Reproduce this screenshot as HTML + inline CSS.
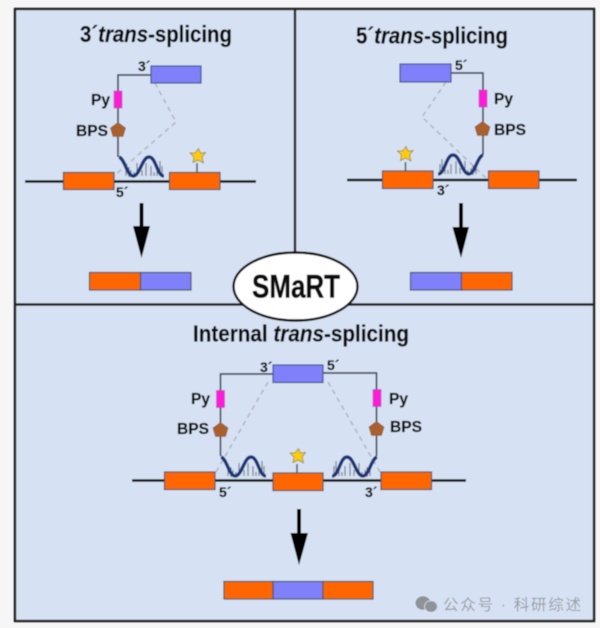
<!DOCTYPE html>
<html><head><meta charset="utf-8"><style>
html,body{margin:0;padding:0;background:#f6f6f6}
svg{display:block}
text{font-family:"Liberation Sans","Noto Sans CJK SC",sans-serif;fill:#0c0c0c}
.b{font-weight:bold;stroke:#0c0c0c;stroke-width:.5px}
.t{font-weight:bold;font-size:23px;stroke:#0c0c0c;stroke-width:.25px}
.s{font-weight:bold;font-size:14px;stroke:#0c0c0c;stroke-width:.2px}
.p{font-weight:bold;font-size:15.500px;stroke:#0c0c0c;stroke-width:.25px}
</style></head><body>
<svg width="600" height="628" viewBox="0 0 600 628" xmlns="http://www.w3.org/2000/svg">
<defs>
<filter id="bl" x="-5%" y="-5%" width="110%" height="110%"><feGaussianBlur stdDeviation="0.4"/></filter>
<path id="star" d="M1,-7.500 L3,-2.800 L8,-3.500 L4.500,1 L6,7 L0.500,4 L-4.500,6.500 L-3.500,1 L-7.500,-3 L-2.200,-3.200Z" fill="#ffcc11" stroke="#8f8433" stroke-width=".8"/>
<path id="pent" d="M0,-7.500 L7.500,-2 L5,6.500 L-5,6.500 L-7.500,-2Z" fill="#a9602f" stroke="#8a552f" stroke-width=".6"/>
<g id="ticks" stroke="#7a808b" stroke-width="1.200" fill="none">
<path d="M8,164V176M11,167V177M13,170V176M16,172V177M19,163V176M24,170V176M28,163V176M33,166V176M36,172V176M39,166V176M42,161V176M44,166V177"/>
</g>
<path id="wave" d="M1,157 C7,159 9,176 15,176 C22,176 24,157 31,157 C38,157 39,176 46,176" fill="none" stroke="#1a3474" stroke-width="3.400"/>
</defs>
<rect width="600" height="628" fill="#f6f6f6"/>
<g filter="url(#bl)">
<rect x="15" y="9" width="579" height="612" fill="#d6e2f4" stroke="#1c1c1c" stroke-width="2.400"/>
<line x1="295" y1="9" x2="295" y2="256" stroke="#1c1c1c" stroke-width="2.400"/>
<line x1="15" y1="304.500" x2="594" y2="304.500" stroke="#1c1c1c" stroke-width="2.400"/>

<!-- Panel 1 -->
<path d="M155,83 L176,122 L115,175" fill="none" stroke="#b0b5bd" stroke-width="1.500" stroke-dasharray="5 4"/>
<line x1="25" y1="181.500" x2="256" y2="181.500" stroke="#0c0c0c" stroke-width="2.600"/>
<path d="M151,75H118V157" fill="none" stroke="#454d5c" stroke-width="1.700"/>
<rect x="151" y="66" width="50" height="17" fill="#8080fa" stroke="#44558a" stroke-width="1.200"/>
<rect x="114" y="91" width="8" height="17" fill="#ff1fd8" stroke="#a040a0" stroke-width=".6"/>
<use href="#pent" x="118" y="130"/>
<g transform="translate(118,0)"><use href="#ticks"/><use href="#wave"/></g>
<rect x="63.500" y="172.500" width="50.500" height="17" fill="#ff6600" stroke="#4b5563" stroke-width="1.200"/>
<rect x="169.500" y="172.500" width="50.500" height="17" fill="#ff6600" stroke="#4b5563" stroke-width="1.200"/>
<line x1="197" y1="163" x2="197" y2="172" stroke="#4b5563" stroke-width="1.500"/>
<use href="#star" x="197.500" y="156"/>
<path d="M139.500,203H143.500V226L150,226L141.500,258L133,226L139.500,226Z" fill="#000"/>
<rect x="89.500" y="272.500" width="51" height="17.500" fill="#ff6600" stroke="#4b5563" stroke-width="1.200"/>
<rect x="140.500" y="272.500" width="50.500" height="17.500" fill="#8080fa" stroke="#4b5563" stroke-width="1.200"/>

<!-- Panel 2 -->
<path d="M446,82 L422,117 L486,178" fill="none" stroke="#b0b5bd" stroke-width="1.500" stroke-dasharray="5 4"/>
<line x1="347" y1="180" x2="577" y2="180" stroke="#0c0c0c" stroke-width="2.600"/>
<path d="M451,73H483V155" fill="none" stroke="#454d5c" stroke-width="1.700"/>
<rect x="400" y="64" width="51" height="18" fill="#8080fa" stroke="#44558a" stroke-width="1.200"/>
<rect x="479" y="90" width="8" height="17" fill="#ff1fd8" stroke="#a040a0" stroke-width=".6"/>
<use href="#pent" x="482.500" y="129"/>
<g transform="translate(484,-2) scale(-1,1)"><use href="#ticks"/><use href="#wave"/></g>
<rect x="382.500" y="171" width="50.500" height="17.500" fill="#ff6600" stroke="#4b5563" stroke-width="1.200"/>
<rect x="488.500" y="171" width="50.500" height="17.500" fill="#ff6600" stroke="#4b5563" stroke-width="1.200"/>
<line x1="405.500" y1="162" x2="405.500" y2="171" stroke="#4b5563" stroke-width="1.500"/>
<use href="#star" x="405" y="154"/>
<path d="M459,203H463V227L469,227L461,258L452.500,227L459,227Z" fill="#000"/>
<rect x="410.500" y="272.500" width="51" height="17.500" fill="#8080fa" stroke="#4b5563" stroke-width="1.200"/>
<rect x="461.500" y="272.500" width="50.500" height="17.500" fill="#ff6600" stroke="#4b5563" stroke-width="1.200"/>

<!-- Panel 3 -->
<path d="M268,382 L216,472" fill="none" stroke="#b0b5bd" stroke-width="1.500" stroke-dasharray="5 4"/>
<path d="M328,382 L380,472" fill="none" stroke="#b0b5bd" stroke-width="1.500" stroke-dasharray="5 4"/>
<line x1="132" y1="480.500" x2="466" y2="480.500" stroke="#0c0c0c" stroke-width="2.600"/>
<path d="M273,374H220.500V456" fill="none" stroke="#454d5c" stroke-width="1.700"/>
<path d="M323,373H376.500V456" fill="none" stroke="#454d5c" stroke-width="1.700"/>
<rect x="273" y="365" width="50" height="17.500" fill="#8080fa" stroke="#44558a" stroke-width="1.200"/>
<rect x="216.500" y="390.500" width="8" height="17" fill="#ff1fd8" stroke="#a040a0" stroke-width=".6"/>
<rect x="373" y="389.500" width="8" height="17" fill="#ff1fd8" stroke="#a040a0" stroke-width=".6"/>
<use href="#pent" x="220.500" y="430"/>
<use href="#pent" x="376.500" y="429"/>
<g transform="translate(220,300)"><use href="#ticks"/><use href="#wave"/></g>
<g transform="translate(378,300) scale(-1,1)"><use href="#ticks"/><use href="#wave"/></g>
<rect x="164.500" y="472" width="50.500" height="17.500" fill="#ff6600" stroke="#4b5563" stroke-width="1.200"/>
<rect x="273" y="473" width="50" height="17.500" fill="#ff6600" stroke="#4b5563" stroke-width="1.200"/>
<rect x="381" y="472" width="50.500" height="17.500" fill="#ff6600" stroke="#4b5563" stroke-width="1.200"/>
<line x1="297" y1="464" x2="297" y2="473" stroke="#4b5563" stroke-width="1.500"/>
<use href="#star" x="297.500" y="456"/>
<path d="M297,509H301V533L308,533L299,565L290.500,533L297,533Z" fill="#000"/>
<rect x="224" y="581.500" width="49" height="17.500" fill="#ff6600" stroke="#4b5563" stroke-width="1.200"/>
<rect x="273" y="581.500" width="50" height="17.500" fill="#8080fa" stroke="#4b5563" stroke-width="1.200"/>
<rect x="323" y="581.500" width="50" height="17.500" fill="#ff6600" stroke="#4b5563" stroke-width="1.200"/>

<!-- SMaRT -->
<ellipse cx="295.500" cy="286.500" rx="62" ry="34" fill="#fff" stroke="#0c0c0c" stroke-width="2.400"/>
<text x="252" y="297.500" class="b" font-size="32" textLength="88" lengthAdjust="spacingAndGlyphs">SMaRT</text>

<!-- Titles -->
<text x="80" y="42" class="t" textLength="152" lengthAdjust="spacingAndGlyphs">3´<tspan font-style="italic">trans</tspan>-splicing</text>
<text x="356" y="43.500" class="t" textLength="152" lengthAdjust="spacingAndGlyphs">5´<tspan font-style="italic">trans</tspan>-splicing</text>
<text x="193" y="341.500" class="t" textLength="216" lengthAdjust="spacingAndGlyphs">Internal <tspan font-style="italic">trans</tspan>-splicing</text>

<!-- Labels -->
<text x="138" y="71" class="s">3´</text>
<text x="91" y="105" class="p">Py</text>
<text x="76" y="136" class="p" textLength="32" lengthAdjust="spacingAndGlyphs">BPS</text>
<text x="116" y="197" class="s">5´</text>
<text x="455" y="70" class="s">5´</text>
<text x="494" y="104" class="p">Py</text>
<text x="494" y="135" class="p" textLength="32" lengthAdjust="spacingAndGlyphs">BPS</text>
<text x="437" y="195" class="s">3´</text>
<text x="260" y="372" class="s">3´</text>
<text x="327" y="370" class="s">5´</text>
<text x="191" y="404" class="p">Py</text>
<text x="177" y="434" class="p" textLength="32" lengthAdjust="spacingAndGlyphs">BPS</text>
<text x="389" y="404" class="p">Py</text>
<text x="390" y="432" class="p" textLength="32" lengthAdjust="spacingAndGlyphs">BPS</text>
<text x="219" y="497" class="s">5´</text>
<text x="365" y="497" class="s">3´</text>

<!-- Watermark -->
<ellipse cx="423" cy="603" rx="7.500" ry="6.800" fill="#8f9297"/>
<ellipse cx="431" cy="606.500" rx="6.500" ry="5.800" fill="#8f9297" stroke="#d6e2f4" stroke-width=".8"/>
<text x="443" y="610" font-size="15.500" style="fill:#9a9da3" textLength="138">公众号 · 科研综述</text>
</g>
</svg>
</body></html>
